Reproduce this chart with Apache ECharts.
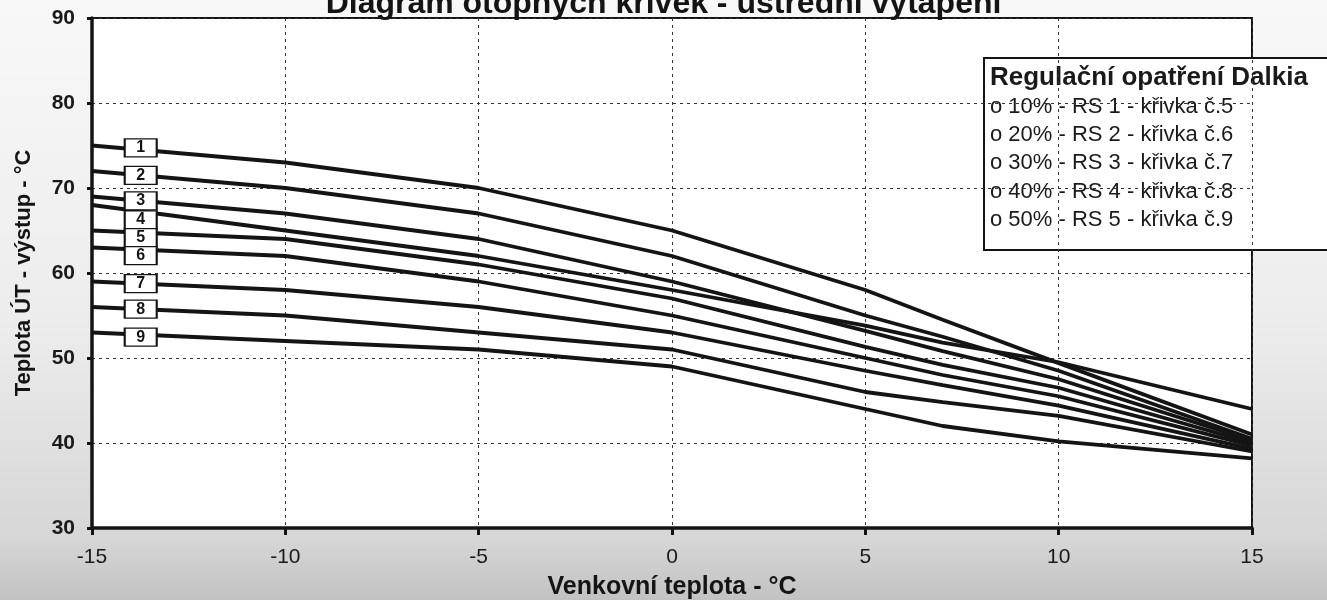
<!DOCTYPE html>
<html>
<head>
<meta charset="utf-8">
<script src="https://cdn.jsdelivr.net/npm/echarts@6/dist/echarts.min.js"></script>
<style>
html,body{margin:0;padding:0;background:#e9e9e9;}
#chart{width:1327px;height:600px;}
</style>
</head>
<body>
<div id="chart"></div>
<script>
// ---- data ----
const xTemps = [-15, -10, -5, 0, 5, 7, 10, 15];
const curve1 = [75, 73, 70, 65, 58, 54.5, 49.4, 41];
const curve2 = [72, 70, 67, 62, 55, 52.5, 48.5, 40.5];
const curve3 = [69, 67, 64, 59, 53.2, 50.8, 47.5, 40.3];
const curve4 = [68, 65, 62, 58, 53.8, 51.8, 49.5, 44];
const curve5 = [65, 64, 61, 57, 51.3, 49.2, 46.5, 40];
const curve6 = [63, 62, 59, 55, 50, 48, 45.5, 39.7];
const curve7 = [59, 58, 56, 53, 48.5, 46.8, 44.4, 39.3];
const curve8 = [56, 55, 53, 51, 46, 44.8, 43.2, 39];
const curve9 = [53, 52, 51, 49, 44, 42, 40.2, 38.2];
const curves = [curve1, curve2, curve3, curve4, curve5, curve6, curve7, curve8, curve9];
const curveNames = ['1', '2', '3', '4', '5', '6', '7', '8', '9'];
const xTicks = [-15, -10, -5, 0, 5, 10, 15];
const yTicks = [30, 40, 50, 60, 70, 80, 90];

const titleText = 'Diagram otopných křivek - ústřední vytápění';
const xName = 'Venkovní teplota - °C';
const yName = 'Teplota ÚT - výstup - °C';
const legendHeading = 'Regulační opatření Dalkia';
const legendItems = [
  'o 10% - RS 1 - křivka č.5',
  'o 20% - RS 2 - křivka č.6',
  'o 30% - RS 3 - křivka č.7',
  'o 40% - RS 4 - křivka č.8',
  'o 50% - RS 5 - křivka č.9'
];

// ---- layout ----
const FONT = '"Liberation Sans", Arial, sans-serif';
const labelX = -13.74;
const labelShiftPx = [-2, 0, 0, 8.5, 5, 6, 0, 0, 2.5];
const pxPerUnit = 510 / 60;

const series = curves.map((c, k) => {
  const yAt = c[0] + (c[1] - c[0]) * (labelX - xTemps[0]) / (xTemps[1] - xTemps[0]);
  return {
    type: 'line',
    name: curveNames[k],
    data: xTemps.map((x, i) => [x, c[i]]),
    symbol: 'none',
    smooth: false,
    lineStyle: {color: '#141414', width: 3.8},
    z: 3,
    markPoint: {
      symbol: 'rect',
      symbolSize: [32, 18],
      itemStyle: {color: '#ffffff', borderColor: '#141414', borderWidth: 1.6},
      label: {show: true, position: 'inside', formatter: curveNames[k], color: '#141414',
              fontFamily: FONT, fontWeight: 'bold', fontSize: 16},
      data: [{coord: [labelX, yAt - labelShiftPx[k] / pxPerUnit]}],
      z: 5
    }
  };
});

const chart = echarts.init(document.getElementById('chart'), null, {renderer: 'canvas'});
chart.setOption({
  animation: false,
  backgroundColor: {
    type: 'linear', x: 0, y: 0, x2: 0, y2: 1,
    colorStops: [
      {offset: 0, color: '#f8f8f8'},
      {offset: 0.55, color: '#ececec'},
      {offset: 0.9, color: '#d6d6d6'},
      {offset: 1, color: '#c2c2c2'}
    ]
  },
  title: {
    text: titleText, left: 'center', top: -17,
    textStyle: {fontFamily: FONT, fontWeight: 'bold', fontSize: 32, color: '#141414'}
  },
  grid: {
    left: 92, right: 75, top: 18, bottom: 72,
    containLabel: false, outerBoundsMode: 'none',
    show: true, backgroundColor: '#ffffff', borderColor: '#141414', borderWidth: 2
  },
  xAxis: {
    type: 'value', min: -15, max: 15, interval: 5,
    name: xName, nameLocation: 'middle', nameGap: 47,
    nameTextStyle: {fontFamily: FONT, fontWeight: 'bold', fontSize: 25, color: '#141414'},
    axisLine: {show: true, onZero: false, lineStyle: {color: '#141414', width: 3.5}},
    axisTick: {show: true, length: 7, lineStyle: {color: '#141414', width: 3}},
    axisLabel: {fontFamily: FONT, fontSize: 21, color: '#1a1a1a', margin: 19,
                formatter: v => xTicks.includes(v) ? String(v) : ''},
    splitLine: {show: true, lineStyle: {color: '#333', width: 1, type: [3, 4]}}
  },
  yAxis: {
    type: 'value', min: 30, max: 90, interval: 10,
    name: yName, nameLocation: 'middle', nameGap: 57, nameRotate: 90,
    nameTextStyle: {fontFamily: FONT, fontWeight: 'bold', fontSize: 22, color: '#141414'},
    axisLine: {show: true, onZero: false, lineStyle: {color: '#141414', width: 3.5}},
    axisTick: {show: true, length: 5, lineStyle: {color: '#141414', width: 3}},
    axisLabel: {fontFamily: FONT, fontSize: 21, fontWeight: 'bold', color: '#1a1a1a', margin: 17,
                formatter: v => yTicks.includes(v) ? String(v) : ''},
    splitLine: {show: true, lineStyle: {color: '#333', width: 1, type: [3, 4]}}
  },
  graphic: [{
    type: 'group', left: 983, top: 57, z: 100,
    children: [
      {type: 'rect', shape: {x: 0, y: 0, width: 370, height: 192},
       style: {fill: '#ffffff', stroke: '#141414', lineWidth: 2}},
      {type: 'text', x: 6, y: 20,
       style: {text: legendHeading, fill: '#1a1a1a', font: 'bold 26px ' + FONT, verticalAlign: 'middle'}},
      ...legendItems.map((t, i) => ({
        type: 'text', x: 6, y: 49 + 28.2 * i,
        style: {text: t, fill: '#1a1a1a', font: '22px ' + FONT, verticalAlign: 'middle'}
      }))
    ]
  }],
  series: series
});
</script>
</body>
</html>
